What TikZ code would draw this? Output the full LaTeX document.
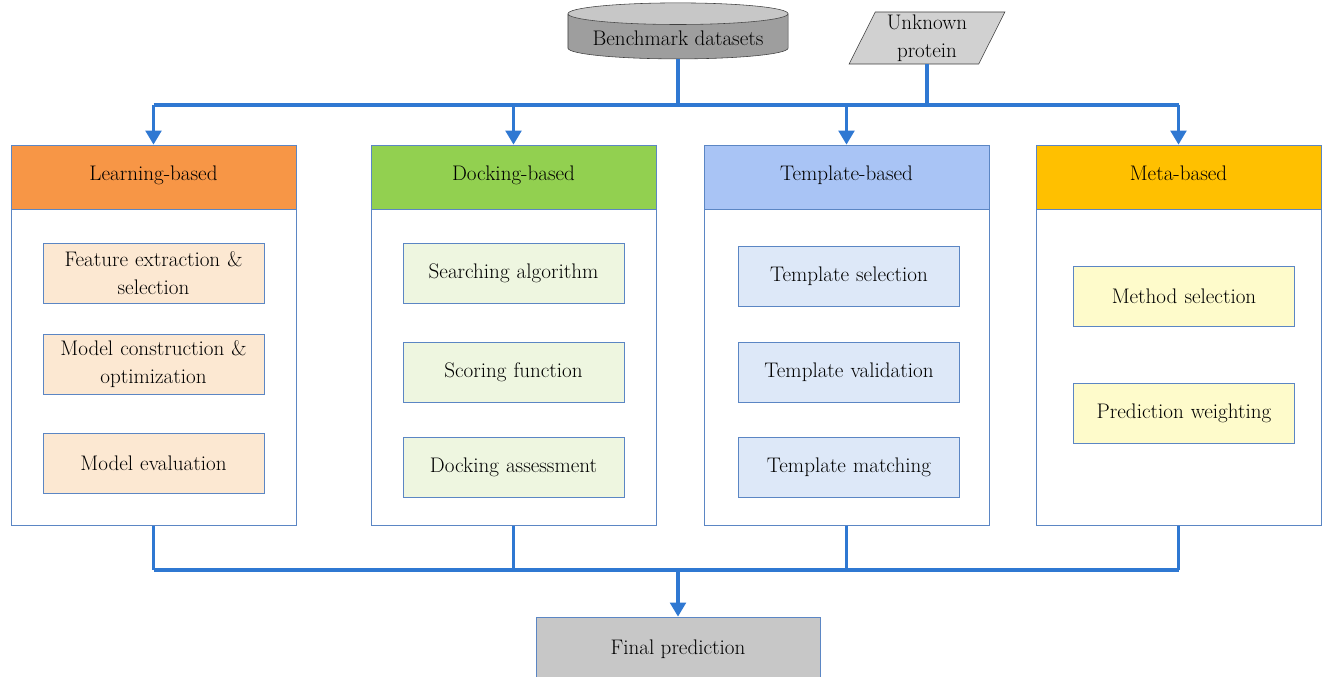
\documentclass[tikz,border=0pt]{standalone}
\usepackage{tikz}
\usetikzlibrary{arrows.meta, positioning, shapes.geometric}
\usepackage{xcolor}
\definecolor{busblue}{HTML}{2F78D2}
\definecolor{edgeblue}{HTML}{5B86C4}
\definecolor{learnhead}{HTML}{F79646}
\definecolor{dockhead}{HTML}{92D050}
\definecolor{templhead}{HTML}{A9C4F5}
\definecolor{metahead}{HTML}{FFC000}
\definecolor{learnitem}{HTML}{FCE8D2}
\definecolor{dockitem}{HTML}{EEF6E0}
\definecolor{templitem}{HTML}{DDE8F8}
\definecolor{metaitem}{HTML}{FEFBCB}

\begin{document}
\begin{tikzpicture}[x=0.025cm, y=-0.025cm, font=\fontsize{15}{20}\selectfont,
  bus/.style={busblue, line width=2.6pt},
  tip/.style={-{Triangle[width=11pt,length=10pt]}},
  head/.style={draw=edgeblue, minimum width=7.125cm, minimum height=1.6cm, text height=1.5ex, text depth=.3ex},
  body/.style={draw=edgeblue, fill=white, minimum width=7.125cm, minimum height=7.9cm},
  item/.style={draw=edgeblue, minimum width=5.525cm, minimum height=1.5cm, align=center, text width=5.1cm}]
  \useasboundingbox (0,0) rectangle (1323,677);

  % inputs
  \node[cylinder, shape border rotate=90, aspect=0.12, draw=black!75, cylinder uses custom fill,
        cylinder body fill=black!38, cylinder end fill=black!22,
        minimum width=5.5cm, minimum height=1.4cm] (bench) at (678,38) {Benchmark datasets};
  \node[trapezium, trapezium left angle=67, trapezium right angle=113, trapezium stretches=true,
        draw=black!75, fill=black!18, align=center, inner sep=1pt,
        minimum width=3.9cm, minimum height=1.3cm] (unknown) at (927,38) {Unknown\\protein};

  % four families
  \node[head, fill=learnhead] (learnhead) at (153.5,177) {Learning-based};
  \node[body, below=0pt of learnhead] (learnbody) {};
  \node[head, fill=dockhead] (dockhead) at (513.5,177) {Docking-based};
  \node[body, below=0pt of dockhead] (dockbody) {};
  \node[head, fill=templhead] (templhead) at (846.5,177) {Template-based};
  \node[body, below=0pt of templhead] (templbody) {};
  \node[head, fill=metahead] (metahead) at (1178.5,177) {Meta-based};
  \node[body, below=0pt of metahead] (metabody) {};

  % steps
  \node[item, fill=learnitem] (feat) at (153.5,273) {Feature extraction \&\\selection};
  \node[item, fill=learnitem] (model) at (153.5,364.5) {Model construction \&\\optimization};
  \node[item, fill=learnitem] (eval) at (153.5,463) {Model evaluation};
  \node[item, fill=dockitem] (search) at (513.5,273) {Searching algorithm};
  \node[item, fill=dockitem] (score) at (513.5,372) {Scoring function};
  \node[item, fill=dockitem] (assess) at (513.5,467.5) {Docking assessment};
  \node[item, fill=templitem] (tsel) at (849,276.5) {Template selection};
  \node[item, fill=templitem] (tval) at (849,372) {Template validation};
  \node[item, fill=templitem] (tmatch) at (849,467.5) {Template matching};
  \node[item, fill=metaitem] (msel) at (1184,296) {Method selection};
  \node[item, fill=metaitem] (pweight) at (1184,413) {Prediction weighting};

  \node[draw=edgeblue, fill=black!22, minimum width=7.1cm, minimum height=1.6cm] (final) at (678,649) {Final prediction};

  % buses
  \coordinate (topbus) at (153.5,105);
  \coordinate (botbus) at (153.5,570);
  \draw[bus] (bench.south) -- (bench.south |- topbus);
  \draw[bus] (unknown.south) -- (unknown.south |- topbus);
  \draw[bus] (topbus) -- (metahead.north |- topbus);
  \draw[bus] (botbus) -- (metabody.south |- botbus);
  \foreach \c in {learn,dock,templ,meta}{
    \draw[bus, tip] (\c head.north |- topbus) -- (\c head.north);
    \draw[bus] (\c body.south) -- (\c body.south |- botbus);
  }
  \draw[bus, tip] (final.north |- botbus) -- (final.north);
\end{tikzpicture}
\end{document}
